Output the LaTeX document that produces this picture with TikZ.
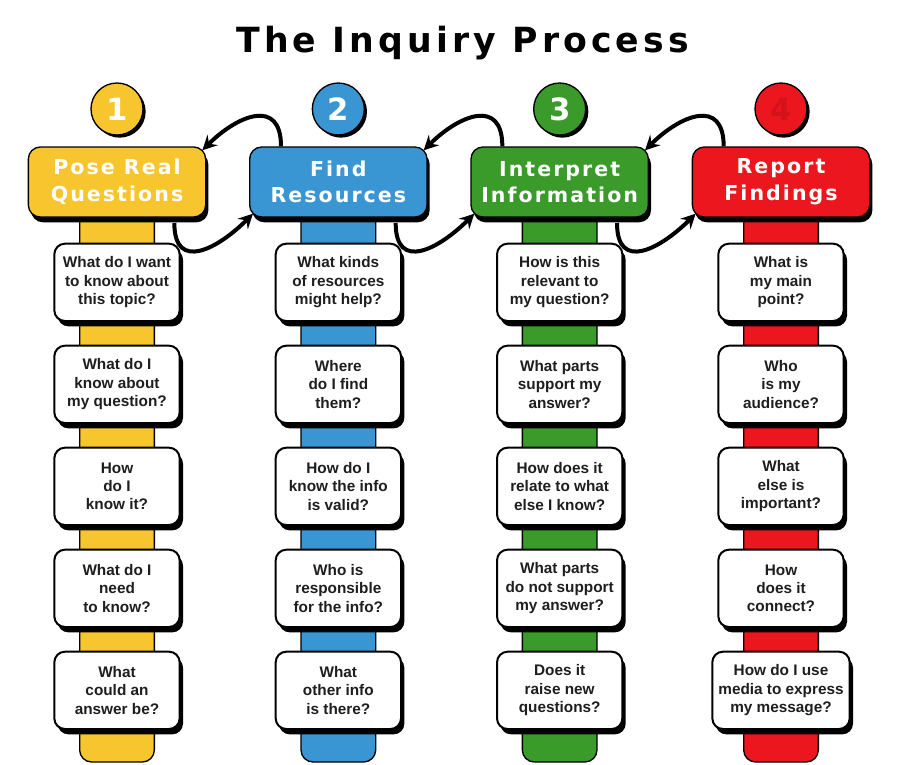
\documentclass[tikz,border=0pt]{standalone}
\usepackage{fontspec}
\setmainfont{Liberation Sans}
\newfontfamily\spacedfont[LetterSpace=10]{DejaVu Sans}
\newfontfamily\titlefont[LetterSpace=12]{DejaVu Sans}
\usepackage{tikz}
\usetikzlibrary{positioning, arrows.meta, shadows, backgrounds}

\definecolor{qyellow}{RGB}{247,197,45}
\definecolor{qblue}{RGB}{57,150,211}
\definecolor{qgreen}{RGB}{58,155,42}
\definecolor{qred}{RGB}{236,22,30}
\definecolor{qdarkred}{RGB}{212,18,26}
\definecolor{qtext}{RGB}{30,30,30}

\begin{document}
\begin{tikzpicture}[
        x=1pt, y=1pt,
        node distance=17pt and 32pt,   % vertical and horizontal distance
        hdr/.style={                   % coloured step headers
            draw=black,
            line width=1pt,
            rounded corners=9pt,
            minimum width=133pt,
            minimum height=52.5pt,
            align=center,
            text=white,
            font=\spacedfont\bfseries\fontsize{15.4}{20}\selectfont,
            general shadow={fill=black, shadow xshift=2pt, shadow yshift=-4pt}
        },
        numc/.style={                  % numbered circles
            circle,
            draw=black,
            line width=1pt,
            minimum size=39pt,
            inner sep=0pt,
            text=white,
            font=\spacedfont\bfseries\fontsize{23}{23}\selectfont,
            general shadow={fill=black, shadow xshift=2pt, shadow yshift=-2pt}
        },
        qbox/.style={                  % question boxes
            draw=black,
            line width=1.5pt,
            fill=white,
            rounded corners=8pt,
            minimum width=94pt,
            minimum height=58pt,
            inner sep=2pt,
            align=center,
            text=qtext,
            font=\bfseries\fontsize{11.5}{13.8}\selectfont,
            general shadow={fill=black, shadow xshift=2.5pt, shadow yshift=-4pt}
        },
        bar/.style={draw=black, line width=1pt, rounded corners=9pt},
        loopy/.style={draw=black, line width=3pt, -{Stealth[length=11pt,width=11pt,inset=4pt]}}
    ]

    \useasboundingbox (0,0) rectangle (692.25,-573);

    % --- Title ---
    \node[anchor=base] (T) at (347,-39) {\titlefont\bfseries\fontsize{26}{30}\selectfont The Inquiry Process};

    % --- Headers ---

    % 1. Pose Real Questions
    \node[hdr, fill=qyellow] (H1) at (87.75,-136.5) {Pose Real\\Questions};

    % 2. Find Resources
    \node[hdr, fill=qblue] (H2) [right=of H1] {Find\\Resources};

    % 3. Interpret Information
    \node[hdr, fill=qgreen] (H3) [right=of H2] {Interpret\\Information};

    % 4. Report Findings
    \node[hdr, fill=qred] (H4) [right=of H3] {Report\\Findings};

    % --- Numbers ---
    \node[numc, fill=qyellow] (N1) [above=8pt of H1] {1};
    \node[numc, fill=qblue] (N2) [above=8pt of H2] {2};
    \node[numc, fill=qgreen] (N3) [above=8pt of H3] {3};
    \node[numc, fill=qred, text=qdarkred] (N4) [above=8pt of H4] {4};

    % --- Questions, column 1 ---
    \node[qbox] (Q11) [below=18.75pt of H1] {What do I want\\to know about\\this topic?};
    \node[qbox] (Q12) [below=of Q11] {What do I\\know about\\my question?};
    \node[qbox] (Q13) [below=of Q12] {How\\do I\\know it?};
    \node[qbox] (Q14) [below=of Q13] {What do I\\need\\to know?};
    \node[qbox] (Q15) [below=of Q14] {What\\could an\\answer be?};

    % --- Questions, column 2 ---
    \node[qbox] (Q21) [below=18.75pt of H2] {What kinds\\of resources\\might help?};
    \node[qbox] (Q22) [below=of Q21] {Where\\do I find\\them?};
    \node[qbox] (Q23) [below=of Q22] {How do I\\know the info\\is valid?};
    \node[qbox] (Q24) [below=of Q23] {Who is\\responsible\\for the info?};
    \node[qbox] (Q25) [below=of Q24] {What\\other info\\is there?};

    % --- Questions, column 3 ---
    \node[qbox] (Q31) [below=18.75pt of H3] {How is this\\relevant to\\my question?};
    \node[qbox] (Q32) [below=of Q31] {What parts\\support my\\answer?};
    \node[qbox] (Q33) [below=of Q32] {How does it\\relate to what\\else I know?};
    \node[qbox] (Q34) [below=of Q33] {What parts\\do not support\\my answer?};
    \node[qbox] (Q35) [below=of Q34] {Does it\\raise new\\questions?};

    % --- Questions, column 4 ---
    \node[qbox] (Q41) [below=18.75pt of H4] {What is\\my main\\point?};
    \node[qbox] (Q42) [below=of Q41] {Who\\is my\\audience?};
    \node[qbox] (Q43) [below=of Q42] {What\\else is\\important?};
    \node[qbox] (Q44) [below=of Q43] {How\\does it\\connect?};
    \node[qbox, minimum width=103pt] (Q45) [below=of Q44] {How do I use\\media to express\\my message?};

    % --- Bar ends ---
    \coordinate (B1) at ([yshift=-24pt]Q15.south);
    \coordinate (B2) at ([yshift=-24pt]Q25.south);
    \coordinate (B3) at ([yshift=-24pt]Q35.south);
    \coordinate (B4) at ([yshift=-24pt]Q45.south);

    % --- Bars behind the boxes ---
    \begin{scope}[on background layer]
        \draw[bar, fill=qyellow] ([xshift=-28pt]H1.center) rectangle ([xshift=28pt]B1);
        \draw[bar, fill=qblue] ([xshift=-28pt]H2.center) rectangle ([xshift=28pt]B2);
        \draw[bar, fill=qgreen] ([xshift=-28pt]H3.center) rectangle ([xshift=28pt]B3);
        \draw[bar, fill=qred] ([xshift=-28pt]H4.center) rectangle ([xshift=28pt]B4);
    \end{scope}

    % --- Loops between steps ---

    % 1. between 1 and 2
    \draw[loopy] ([xshift=24pt]H2.north west) to[out=90, in=45, looseness=1.6] ([xshift=-3pt,yshift=-3pt]H1.north east);
    \draw[loopy] ([xshift=-24pt,yshift=-4pt]H1.south east) to[out=-90, in=-135, looseness=1.6] ([xshift=3pt,yshift=3pt]H2.south west);

    % 2. between 2 and 3
    \draw[loopy] ([xshift=24pt]H3.north west) to[out=90, in=45, looseness=1.6] ([xshift=-3pt,yshift=-3pt]H2.north east);
    \draw[loopy] ([xshift=-24pt,yshift=-4pt]H2.south east) to[out=-90, in=-135, looseness=1.6] ([xshift=3pt,yshift=3pt]H3.south west);

    % 3. between 3 and 4
    \draw[loopy] ([xshift=24pt]H4.north west) to[out=90, in=45, looseness=1.6] ([xshift=-3pt,yshift=-3pt]H3.north east);
    \draw[loopy] ([xshift=-24pt,yshift=-4pt]H3.south east) to[out=-90, in=-135, looseness=1.6] ([xshift=3pt,yshift=3pt]H4.south west);

\end{tikzpicture}
\end{document}
